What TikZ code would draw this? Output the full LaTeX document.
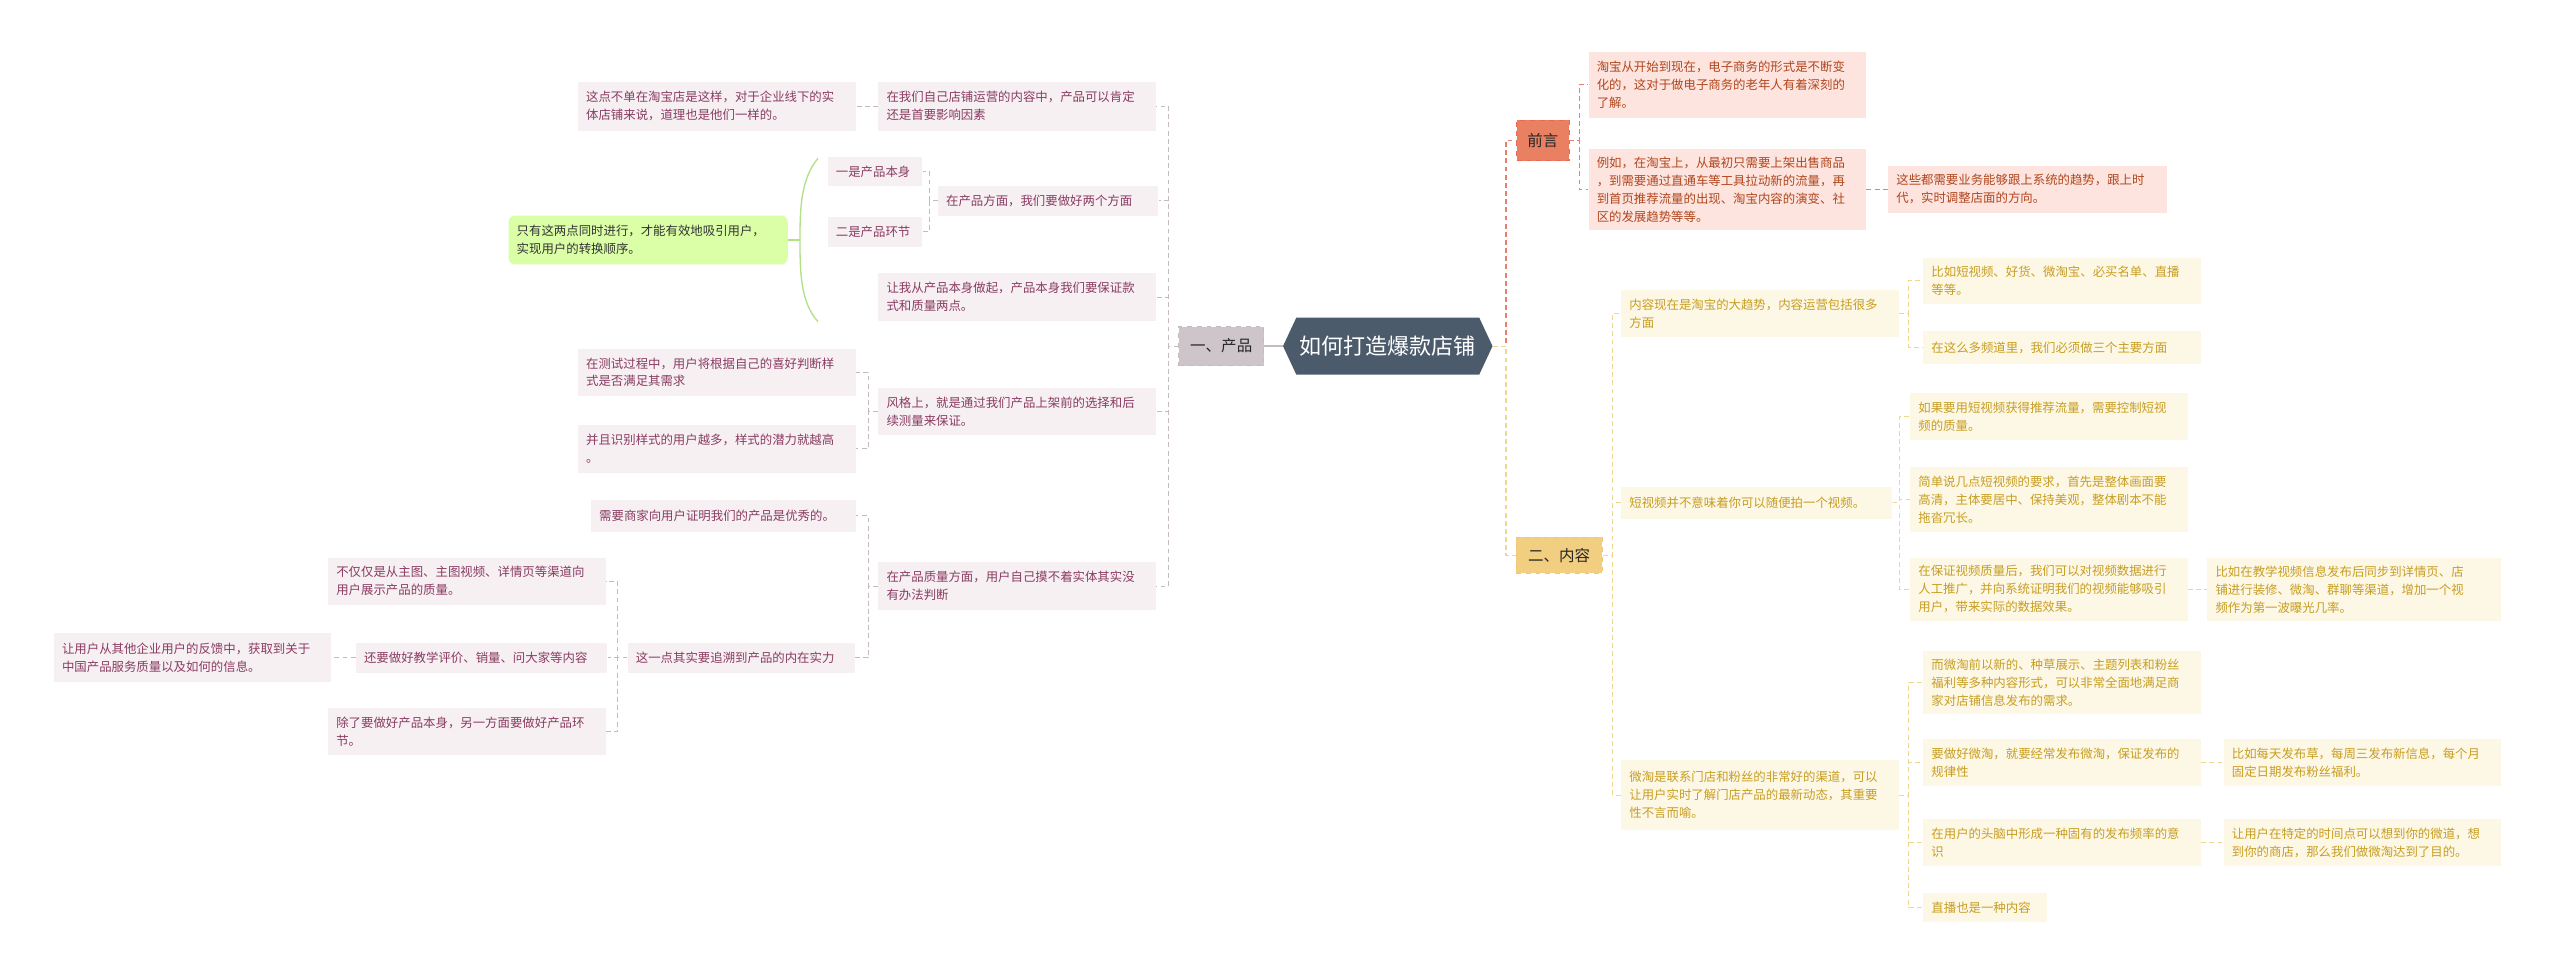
\documentclass[tikz,border=0pt]{standalone}
\usepackage{fontspec}
\setmainfont{Noto Sans CJK SC}
\usetikzlibrary{shapes.symbols}
\definecolor{pktx}{HTML}{8A3B62}
\definecolor{pkfill}{HTML}{F6F0F2}
\definecolor{pkln}{HTML}{C4BAC0}
\definecolor{rdtx}{HTML}{B0461E}
\definecolor{rdfill}{HTML}{FDE4DE}
\definecolor{rdln}{HTML}{E5806C}
\definecolor{yltx}{HTML}{C79E22}
\definecolor{ylfill}{HTML}{FDF7E5}
\definecolor{ylln}{HTML}{EFD78E}
\definecolor{rootc}{HTML}{4B5B6B}
\tikzset{
  bx/.style={inner xsep=5pt, inner ysep=2pt, align=left, text width=160pt, font=\fontsize{7.6}{11}\selectfont},
  pk/.style={bx, fill=pkfill, text=pktx},
  rd/.style={bx, fill=rdfill, text=rdtx},
  yl/.style={bx, fill=ylfill, text=yltx},
  pkl/.style={draw=pkln, dash pattern=on 3pt off 2pt, line width=0.6pt},
  rdl/.style={draw=rdln, dash pattern=on 3pt off 2pt, line width=0.7pt},
  yll/.style={draw=ylln, dash pattern=on 3pt off 2pt, line width=0.7pt},
  top/.style={inner sep=3pt, font=\fontsize{9.5}{11}\selectfont, text=black!85},
}
\begin{document}
\begin{tikzpicture}[x=1pt,y=-1pt]
\useasboundingbox[fill=white] (0,0) rectangle (1568,600);
% root
\node[signal, signal to=west and east, signal pointer angle=130, fill=rootc, text=white, minimum width=125pt, minimum height=35pt, inner sep=2pt, font=\fontsize{13.5}{15}\selectfont] (root) at (850,212) {如何打造爆款店铺};
% ===== left =====
\node[top, fill=pkln!80!pkfill, draw=pkln, dashed, minimum width=52pt, minimum height=24pt] (prod) at (748,212) {一、产品};
\node[pk, minimum height=30pt] (p1) at (623,65) {在我们自己店铺运营的内容中，产品可以肯定\\还是首要影响因素};
\node[pk, minimum height=30pt] (a1) at (439,65) {这点不单在淘宝店是这样，对于企业线下的实\\体店铺来说，道理也是他们一样的。};
\node[pk, text width=125pt, minimum height=18pt] (p2) at (642,123) {在产品方面，我们要做好两个方面};
\node[pk, text width=48pt, minimum height=18pt] (s1) at (536,105) {一是产品本身};
\node[pk, text width=48pt, minimum height=18pt] (s2) at (536,142) {二是产品环节};
\node[bx, fill=green!40!yellow!35!white, text=black!80, rounded corners=4pt, minimum height=30pt, text width=161pt] (g) at (397,147) {只有这两点同时进行，才能有效地吸引用户，\\实现用户的转换顺序。};
\node[pk, minimum height=29pt] (p3) at (623,182) {让我从产品本身做起，产品本身我们要保证款\\式和质量两点。};
\node[pk, minimum height=29pt] (p4) at (623,252) {风格上，就是通过我们产品上架前的选择和后\\续测量来保证。};
\node[pk, minimum height=29pt] (t1) at (439,228) {在测试过程中，用户将根据自己的喜好判断样\\式是否满足其需求};
\node[pk, minimum height=29pt] (t2) at (439,275) {并且识别样式的用户越多，样式的潜力就越高\\。};
\node[pk, minimum height=29pt] (p5) at (623,359) {在产品质量方面，用户自己摸不着实体其实没\\有办法判断};
\node[pk, text width=152pt, minimum height=20pt] (q1) at (443,316) {需要商家向用户证明我们的产品是优秀的。};
\node[pk, text width=129pt, minimum height=18pt] (q2) at (454,403) {这一点其实要追溯到产品的内在实力};
\node[pk, minimum height=29pt] (r1) at (286,356) {不仅仅是从主图、主图视频、详情页等渠道向\\用户展示产品的质量。};
\node[pk, text width=144pt, minimum height=18pt] (r2) at (295,403) {还要做好教学评价、销量、问大家等内容};
\node[pk, minimum height=29pt] (r3) at (286,448) {除了要做好产品本身，另一方面要做好产品环\\节。};
\node[pk, minimum height=30pt] (u1) at (118,403) {让用户从其他企业用户的反馈中，获取到关于\\中国产品服务质量以及如何的信息。};
\draw[pkln, line width=1.5pt] (root.west) -- (prod.east);
\foreach \c in {p1,p2,p3,p4,p5} \draw[pkl] (prod.west) -- ++(-6,0) |- (\c.east);
\draw[pkl] (p1.west) -- (a1.east);
\foreach \c in {s1,s2} \draw[pkl] (p2.west) -- ++(-5,0) |- (\c.east);
\foreach \c in {t1,t2} \draw[pkl] (p4.west) -- ++(-6,0) |- (\c.east);
\foreach \c in {q1,q2} \draw[pkl] (p5.west) -- ++(-6,0) |- (\c.east);
\foreach \c in {r1,r2,r3} \draw[pkl] (q2.west) -- ++(-6,0) |- (\c.east);
\draw[pkl] (r2.west) -- (u1.east);
\coordinate (bt) at (501,97);
\coordinate (bm) at (490,147);
\coordinate (bb) at (501,197);
\draw[green!50!yellow!60!gray!60, line width=0.8pt] (bt) .. controls (490,110) and (490,130) .. (bm) .. controls (490,165) and (490,185) .. (bb);
\draw[green!50!yellow!60!gray!60, line width=0.8pt] (g.east) -- (bm);
% ===== right =====
\node[top, fill=rdln!90!orange, draw=rdln!80!red, dashed, minimum width=32pt, minimum height=25pt] (qy) at (945,86) {前言};
\node[rd, minimum height=40pt] (qy1) at (1058,52) {淘宝从开始到现在，电子商务的形式是不断变\\化的，这对于做电子商务的老年人有着深刻的\\了解。};
\node[rd, minimum height=50pt] (qy2) at (1058,116) {例如，在淘宝上，从最初只需要上架出售商品\\，到需要通过直通车等工具拉动新的流量，再\\到首页推荐流量的出现、淘宝内容的演变、社\\区的发展趋势等等。};
\node[rd, text width=161pt, minimum height=29pt] (qy3) at (1242,116) {这些都需要业务能够跟上系统的趋势，跟上时\\代，实时调整店面的方向。};
\draw[rdl] (root.east) -- ++(8,0) |- (qy.west);
\foreach \c in {qy1,qy2} \draw[rdl] (qy.east) -- ++(6,0) |- (\c.west);
\draw[rdl] (qy2.east) -- (qy3.west);
\node[top, fill=ylln!90!orange, draw=ylln!80!orange, dashed, minimum width=53pt, minimum height=22pt] (nr) at (955,340) {二、内容};
\node[yl, minimum height=29pt] (c1) at (1078,192) {内容现在是淘宝的大趋势，内容运营包括很多\\方面};
\node[yl, minimum height=28pt] (c11) at (1263,172) {比如短视频、好货、微淘宝、必买名单、直播\\等等。};
\node[yl, minimum height=20pt] (c12) at (1263,213) {在这么多频道里，我们必须做三个主要方面};
\node[yl, text width=156pt, minimum height=20pt] (c2) at (1076,308) {短视频并不意味着你可以随便拍一个视频。};
\node[yl, minimum height=29pt] (c21) at (1255,255) {如果要用短视频获得推荐流量，需要控制短视\\频的质量。};
\node[yl, minimum height=40pt] (c22) at (1255,306) {简单说几点短视频的要求，首先是整体画面要\\高清，主体要居中、保持美观，整体剧本不能\\拖沓冗长。};
\node[yl, minimum height=39pt] (c23) at (1255,361) {在保证视频质量后，我们可以对视频数据进行\\人工推广，并向系统证明我们的视频能够吸引\\用户，带来实际的数据效果。};
\node[yl, text width=170pt, minimum height=39pt] (c231) at (1442,361) {比如在教学视频信息发布后同步到详情页、店\\铺进行装修、微淘、群聊等渠道，增加一个视\\频作为第一波曝光几率。};
\node[yl, minimum height=43pt] (c3) at (1078,487) {微淘是联系门店和粉丝的非常好的渠道，可以\\让用户实时了解门店产品的最新动态，其重要\\性不言而喻。};
\node[yl, minimum height=39pt] (c31) at (1263,418) {而微淘前以新的、种草展示、主题列表和粉丝\\福利等多种内容形式，可以非常全面地满足商\\家对店铺信息发布的需求。};
\node[yl, minimum height=29pt] (c32) at (1263,467) {要做好微淘，就要经常发布微淘，保证发布的\\规律性};
\node[yl, minimum height=29pt] (c321) at (1447,467) {比如每天发布草，每周三发布新信息，每个月\\固定日期发布粉丝福利。};
\node[yl, minimum height=29pt] (c33) at (1263,516) {在用户的头脑中形成一种固有的发布频率的意\\识};
\node[yl, minimum height=29pt] (c331) at (1447,516) {让用户在特定的时间点可以想到你的微道，想\\到你的商店，那么我们做微淘达到了目的。};
\node[yl, text width=66pt, minimum height=18pt] (c34) at (1216,556) {直播也是一种内容};
\draw[yll] (root.east) -- ++(8,0) |- (nr.west);
\foreach \c in {c1,c2,c3} \draw[yll] (nr.east) -- ++(6,0) |- (\c.west);
\foreach \c in {c11,c12} \draw[yll] (c1.east) -- ++(6,0) |- (\c.west);
\foreach \c in {c21,c22,c23} \draw[yll] (c2.east) -- ++(4,0) |- (\c.west);
\draw[yll] (c23.east) -- (c231.west);
\foreach \c in {c31,c32,c33,c34} \draw[yll] (c3.east) -- ++(6,0) |- (\c.west);
\draw[yll] (c32.east) -- (c321.west);
\draw[yll] (c33.east) -- (c331.west);
\end{tikzpicture}
\end{document}
